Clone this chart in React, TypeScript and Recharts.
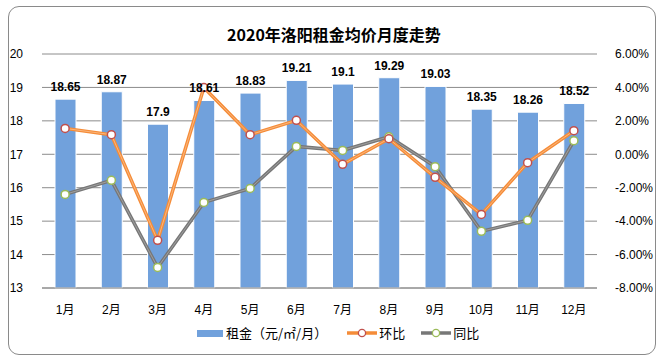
import { ComposedChart, Bar, Line, XAxis, YAxis, CartesianGrid, LabelList } from "recharts";

const months = ["1月", "2月", "3月", "4月", "5月", "6月", "7月", "8月", "9月", "10月", "11月", "12月"];
const rent = [18.65, 18.87, 17.9, 18.61, 18.83, 19.21, 19.1, 19.29, 19.03, 18.35, 18.26, 18.52];
// month-on-month and year-on-year change, in percent
const mom = [1.55, 1.17, -5.15, 3.99, 1.17, 2.03, -0.6, 0.93, -1.38, -3.6, -0.5, 1.41];
const yoy = [-2.4, -1.56, -6.77, -2.88, -2.04, 0.47, 0.23, 1.05, -0.74, -4.61, -3.95, 0.81];
const leftTicks = [13, 14, 15, 16, 17, 18, 19, 20];
const rightTicks = [-8, -6, -4, -2, 0, 2, 4, 6];

const data = months.map((m, i) => ({ month: m, rent: rent[i], mom: mom[i], yoy: yoy[i] }));

const FONT = "'Liberation Sans', 'Noto Sans CJK SC', sans-serif";
const BLUE = "#71a1dc";
const ORANGE = "#f58c38";
const GRAY = "#777777";

function LegendSwatchLine({ color, dotStroke }: { color: string; dotStroke: string }) {
  return (
    <svg width={30} height={10} style={{ marginRight: 2 }}>
      <line x1={0} y1={5} x2={30} y2={5} stroke={color} strokeWidth={3.5} />
      <circle cx={15} cy={5} r={3.6} fill="#fff" stroke={dotStroke} strokeWidth={1.3} />
    </svg>
  );
}

export default function App() {
  const tick = { fill: "#000", fontSize: 12, fontFamily: FONT };
  return (
    <div style={{ position: "absolute", left: 0, top: 0, width: 662, height: 362, background: "#fff", fontFamily: FONT }}>
      <div
        style={{
          position: "absolute",
          left: 8,
          top: 6,
          width: 646,
          height: 347,
          border: "1px solid #8a8a8a",
          borderRadius: 11,
        }}
      />
      <div
        style={{
          position: "absolute",
          top: 22,
          left: 0,
          width: 668,
          textAlign: "center",
          fontSize: 16,
          fontWeight: "bold",
          fontFamily: "'Noto Sans CJK SC', sans-serif",
          color: "#000",
        }}
      >
        2020年洛阳租金均价月度走势
      </div>
      <ComposedChart
        width={662}
        height={362}
        data={data}
        margin={{ top: 54, right: 0, bottom: 54, left: 0 }}
        style={{ position: "absolute", left: 0, top: 0 }}
      >
        <CartesianGrid yAxisId="left" vertical={false} stroke="#8c8c8c" />
        <XAxis
          dataKey="month"
          tickLine={false}
          axisLine={{ stroke: "#8c8c8c" }}
          tick={tick}
          tickMargin={11}
          height={20}
          interval={0}
        />
        <YAxis
          yAxisId="left"
          domain={[13, 20]}
          ticks={leftTicks}
          axisLine={false}
          tickLine={false}
          tick={tick}
          tickMargin={13}
          width={42}
        />
        <YAxis
          yAxisId="right"
          orientation="right"
          domain={[-8, 6]}
          ticks={rightTicks}
          axisLine={false}
          tickLine={false}
          tick={tick}
          tickMargin={12}
          width={65}
          tickFormatter={(v: number) => `${v.toFixed(2)}%`}
        />
        <Bar yAxisId="left" dataKey="rent" fill={BLUE} stroke="#fff" strokeWidth={1} barSize={21} isAnimationActive={false}>
          <LabelList
            dataKey="rent"
            position="top"
            offset={8}
            style={{ fill: "#000", fontSize: 12, fontWeight: "bold", fontFamily: FONT }}
          />
        </Bar>
        <Line yAxisId="right" type="linear" dataKey="yoy" stroke={GRAY} strokeWidth={3.5} dot={false} isAnimationActive={false} />
        <Line
          yAxisId="right"
          type="linear"
          dataKey="yoy"
          stroke="#a8a8a8"
          strokeWidth={0.8}
          dot={{ r: 4, fill: "#fff", stroke: "#9bbb59", strokeWidth: 1.5 }}
          isAnimationActive={false}
        />
        <Line yAxisId="right" type="linear" dataKey="mom" stroke={ORANGE} strokeWidth={3.5} dot={false} isAnimationActive={false} />
        <Line
          yAxisId="right"
          type="linear"
          dataKey="mom"
          stroke="#fbc08e"
          strokeWidth={0.8}
          dot={{ r: 4, fill: "#fff", stroke: "#c0504d", strokeWidth: 1.5 }}
          isAnimationActive={false}
        />
      </ComposedChart>
      <div
        style={{
          position: "absolute",
          top: 325,
          left: 197,
          display: "flex",
          alignItems: "center",
          fontSize: 13,
          color: "#000",
          fontFamily: "'Noto Sans CJK SC', sans-serif",
          lineHeight: "16px",
        }}
      >
        <span style={{ display: "inline-block", width: 26, height: 7, background: BLUE, marginRight: 3 }} />
        <span style={{ marginRight: 20 }}>租金（元/㎡/月）</span>
        <LegendSwatchLine color={ORANGE} dotStroke="#c0504d" />
        <span style={{ marginRight: 16 }}>环比</span>
        <LegendSwatchLine color={GRAY} dotStroke="#9bbb59" />
        <span>同比</span>
      </div>
    </div>
  );
}
